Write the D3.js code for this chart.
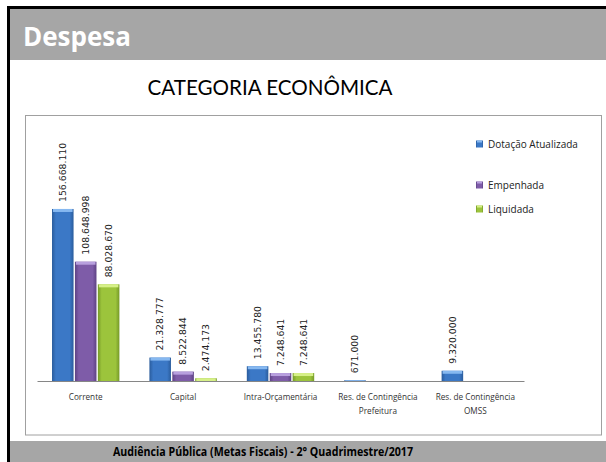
<!DOCTYPE html>
<html>
<head>
<meta charset="utf-8">
<script src="https://cdn.jsdelivr.net/npm/d3@7"></script>
<style>
  html, body { margin: 0; padding: 0; background: #fff; overflow: hidden; }
  svg { display: block; }
</style>
</head>
<body>
<div id="chart"></div>
<script>
// data
var categories = ["Corrente", "Capital", "Intra-Orçamentária", "Res. de Contingência|Prefeitura", "Res. de Contingência|OMSS"];
var seriesNames = ["Dotação Atualizada", "Empenhada", "Liquidada"];
var dotacao = [156668110, 21328777, 13455780, 671000, 9320000];
var empenhada = [108648998, 8522844, 7248641, null, null];
var liquidada = [88028670, 2474173, 7248641, null, null];

var width = 606, height = 462;

var colors = [
  { base: "#3b78c6", edge: "#2a5c9c", top: "#86b8f0" },
  { base: "#7e5ca8", edge: "#5d4283", top: "#b8a0de" },
  { base: "#9cc43c", edge: "#769a28", top: "#d6f088" }
];

var svg = d3.select("#chart").append("svg")
  .attr("width", width)
  .attr("height", height);

var defs = svg.append("defs");
colors.forEach(function (c, i) {
  var g = defs.append("linearGradient").attr("id", "grad" + i)
    .attr("x1", "0%").attr("x2", "100%").attr("y1", "0%").attr("y2", "0%");
  g.append("stop").attr("offset", "0%").attr("stop-color", c.edge);
  g.append("stop").attr("offset", "18%").attr("stop-color", c.base);
  g.append("stop").attr("offset", "82%").attr("stop-color", c.base);
  g.append("stop").attr("offset", "100%").attr("stop-color", c.edge);
});

// slide frame
svg.append("rect").attr("x", 7).attr("y", 6).attr("width", 599).attr("height", 3).attr("fill", "#000");
svg.append("rect").attr("x", 7).attr("y", 6).attr("width", 3).attr("height", 456).attr("fill", "#000");
svg.append("rect").attr("x", 10).attr("y", 9).attr("width", 596).attr("height", 51).attr("fill", "#a6a6a6");
svg.append("rect").attr("x", 10).attr("y", 441).attr("width", 596).attr("height", 21).attr("fill", "#a6a6a6");

svg.append("text")
  .attr("x", 23).attr("y", 46)
  .attr("font-family", "Open Sans")
  .attr("font-weight", "bold")
  .attr("font-size", 26)
  .attr("fill", "#fff")
  .text("Despesa");

svg.append("text")
  .attr("x", 270).attr("y", 95)
  .attr("text-anchor", "middle")
  .attr("font-family", "Lato")
  .attr("font-size", 21.5)
  .attr("textLength", 245)
  .attr("lengthAdjust", "spacingAndGlyphs")
  .attr("fill", "#000")
  .text("CATEGORIA ECONÔMICA");

svg.append("text")
  .attr("x", 263).attr("y", 456)
  .attr("text-anchor", "middle")
  .attr("font-family", "Open Sans")
  .attr("font-weight", "bold")
  .attr("font-size", 12)
  .attr("textLength", 300)
  .attr("lengthAdjust", "spacingAndGlyphs")
  .attr("fill", "#000")
  .text("Audiência Pública (Metas Fiscais) - 2° Quadrimestre/2017");

// chart box
svg.append("rect")
  .attr("x", 25.5).attr("y", 115.5)
  .attr("width", 576).attr("height", 319.5)
  .attr("fill", "#fff")
  .attr("stroke", "#a0a0a0");

var x0 = d3.scaleBand()
  .domain(categories)
  .range([37, 524])
  .paddingInner(0.28)
  .paddingOuter(0.14);

var x1 = d3.scaleBand()
  .domain(seriesNames)
  .range([0, x0.bandwidth()])
  .padding(0.06);

var y = d3.scaleLinear()
  .domain([0, 180000000])
  .range([381, 381 - 180 * 1.098]);

var allSeries = [dotacao, empenhada, liquidada];
var fmt = function (v) { return d3.format(",")(v).replace(/,/g, "."); };

var rows = [];
categories.forEach(function (cat, ci) {
  allSeries.forEach(function (vals, si) {
    if (vals[ci] != null) rows.push({ cat: cat, s: si, v: vals[ci] });
  });
});

var bars = svg.append("g").selectAll("g")
  .data(rows)
  .enter().append("g");

bars.append("rect")
  .attr("x", function (d) { return x0(d.cat) + x1(seriesNames[d.s]); })
  .attr("y", function (d) { return y(d.v); })
  .attr("width", x1.bandwidth())
  .attr("height", function (d) { return y(0) - y(d.v); })
  .attr("fill", function (d) { return "url(#grad" + d.s + ")"; });

// lighter top cap for the bevel look
bars.append("rect")
  .attr("x", function (d) { return x0(d.cat) + x1(seriesNames[d.s]) + 1; })
  .attr("y", function (d) { return y(d.v); })
  .attr("width", x1.bandwidth() - 2)
  .attr("height", function (d) { return Math.min(3, y(0) - y(d.v)); })
  .attr("fill", function (d) { return colors[d.s].top; });

bars.append("text")
  .attr("transform", function (d) {
    var cx = x0(d.cat) + x1(seriesNames[d.s]) + x1.bandwidth() / 2 + 3.3;
    return "translate(" + cx + "," + (y(d.v) - 7) + ") rotate(-90)";
  })
  .attr("font-family", "DejaVu Sans")
  .attr("font-size", 9.3)
  .attr("fill", "#222")
  .text(function (d) { return fmt(d.v); });

// axis
var xAxis = svg.append("g")
  .attr("transform", "translate(0,381)")
  .call(d3.axisBottom(x0).tickSize(0).tickFormat(""));
xAxis.select(".domain").attr("stroke", "#868686");

var catLabels = svg.append("g").selectAll("text")
  .data(categories)
  .enter().append("text")
  .attr("x", function (d) { return x0(d) + x0.bandwidth() / 2; })
  .attr("y", 400)
  .attr("text-anchor", "middle")
  .attr("font-family", "Open Sans")
  .attr("font-size", 8.2)
  .attr("fill", "#333");

catLabels.each(function (d) {
  var parts = d.split("|");
  var t = d3.select(this);
  parts.forEach(function (p, i) {
    t.append("tspan")
      .attr("x", x0(d) + x0.bandwidth() / 2)
      .attr("dy", i == 0 ? 0 : 13.5)
      .text(p);
  });
});

// legend
var legend = svg.append("g").selectAll("g")
  .data(seriesNames)
  .enter().append("g")
  .attr("transform", function (d, i) {
    var ly = [144, 185, 209][i];
    return "translate(476," + ly + ")";
  });

legend.append("rect")
  .attr("x", 0).attr("y", -3.5)
  .attr("width", 7).attr("height", 7)
  .attr("fill", function (d, i) { return "url(#grad" + i + ")"; });

legend.append("rect")
  .attr("x", 1).attr("y", -3.5)
  .attr("width", 5).attr("height", 2)
  .attr("fill", function (d, i) { return colors[i].top; });

legend.append("text")
  .attr("x", 12).attr("y", 3.6)
  .attr("font-family", "Open Sans")
  .attr("font-size", 10)
  .attr("fill", "#222")
  .text(function (d) { return d; });
</script>
</body>
</html>
